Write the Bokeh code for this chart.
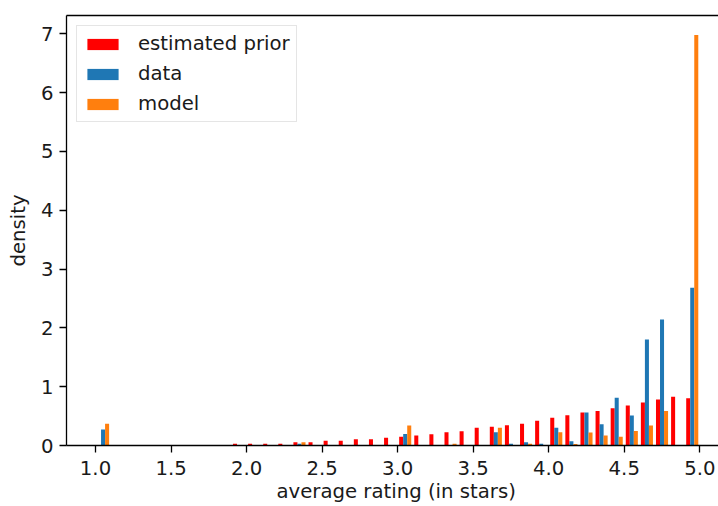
from bokeh.plotting import figure
from bokeh.models import Range1d, LinearAxis, FixedTicker, ColumnDataSource, Title
from bokeh.embed import file_html
from bokeh.resources import INLINE

# ---- data (density histograms, 40 bins of width 0.1 from 1.0 to 5.0) ----
bin_lefts = [round(1.0 + 0.1 * i, 1) for i in range(40)]

prior = [0, 0, 0, 0, 0, 0, 0, 0, 0, 0.028,
         0.028, 0.028, 0.028, 0.057, 0.057, 0.079, 0.079, 0.108, 0.108, 0.13,
         0.15, 0.17, 0.19, 0.227, 0.244, 0.30, 0.317, 0.346, 0.368, 0.42,
         0.47, 0.515, 0.56, 0.585, 0.635, 0.68, 0.73, 0.78, 0.83, 0.805]

data = [0.272, 0, 0, 0, 0, 0, 0, 0, 0, 0,
        0, 0, 0, 0.028, 0, 0, 0, 0, 0, 0,
        0.195, 0, 0, 0, 0, 0, 0.227, 0.03, 0.057, 0.03,
        0.30, 0.072, 0.56, 0.36, 0.81, 0.51, 1.80, 2.14, 0, 2.68]

model = [0.37, 0, 0, 0, 0, 0, 0, 0, 0, 0,
         0, 0, 0, 0.057, 0, 0, 0, 0, 0, 0,
         0.34, 0, 0, 0.03, 0, 0, 0.30, 0, 0.03, 0,
         0.227, 0.025, 0.22, 0.17, 0.15, 0.245, 0.34, 0.585, 0, 6.98]

series_names = ["estimated prior", "data", "model"]
series_colors = ["#ff0000", "#1f77b4", "#ff7f0e"]

x_ticks = [1.0, 1.5, 2.0, 2.5, 3.0, 3.5, 4.0, 4.5, 5.0]
x_tick_labels = ["1.0", "1.5", "2.0", "2.5", "3.0", "3.5", "4.0", "4.5", "5.0"]
y_ticks = [0, 1, 2, 3, 4, 5, 6, 7]
x_title = "average rating (in stars)"
y_title = "density"

bin_width = 0.1

FONT = "DejaVu Sans"
FS = "19.7px"
TXT = "#1a1a1a"

p = figure(width=718, height=506, output_backend="svg", toolbar_location=None,
           x_range=Range1d(0.808, 5.1238), y_range=Range1d(0, 7.31),
           min_border_left=66, min_border_right=0, min_border_top=15,
           min_border_bottom=61)
p.outline_line_color = None
p.xgrid.visible = False
p.ygrid.visible = False

bar_w = bin_width * 0.8 / 3
for k, (vals, name, col) in enumerate(zip([prior, data, model], series_names, series_colors)):
    xs = [b + bin_width * 0.1 + (k + 0.5) * bar_w for b in bin_lefts]
    src = ColumnDataSource(dict(x=xs, top=vals))
    p.vbar(x="x", top="top", bottom=0, width=bar_w, source=src,
           fill_color=col, line_color=None, legend_label=name)

for ax in (p.xaxis[0], p.yaxis[0]):
    ax.axis_line_width = 1.3
    ax.axis_line_color = "black"
    ax.major_tick_line_width = 1.3
    ax.major_tick_line_color = "black"
    ax.major_tick_out = 7
    ax.major_tick_in = 0
    ax.minor_tick_line_color = None
    ax.major_label_text_font = FONT
    ax.major_label_text_font_size = FS
    ax.major_label_text_color = TXT
    ax.axis_label_text_font = FONT
    ax.axis_label_text_font_size = FS
    ax.axis_label_text_font_style = "normal"
    ax.axis_label_text_color = TXT

p.xaxis[0].ticker = FixedTicker(ticks=x_ticks)
p.xaxis[0].major_label_overrides = {t: l for t, l in zip(x_ticks, x_tick_labels)}
p.xaxis[0].major_label_standoff = 8

# x-axis title, placed as in the original (its axes extend past the crop)
p.add_layout(Title(text=x_title, align="left", offset=210, standoff=1,
                   text_font=FONT, text_font_size=FS, text_font_style="normal",
                   text_color=TXT), "below")

p.yaxis[0].ticker = FixedTicker(ticks=y_ticks)
p.yaxis[0].major_label_standoff = 6
p.yaxis[0].axis_label = y_title
p.yaxis[0].axis_label_standoff = 8

top_axis = LinearAxis(ticker=FixedTicker(ticks=[]), axis_line_width=1.3,
                      axis_line_color="black", major_tick_out=0, major_tick_in=0,
                      minor_tick_out=0, minor_tick_in=0, major_label_standoff=0)
p.add_layout(top_axis, "above")

lg = p.legend[0]
lg.location = "top_left"
lg.margin = 10
lg.padding = 6
lg.spacing = 7
lg.glyph_width = 39
lg.glyph_height = 14
lg.label_standoff = 16
lg.label_text_font = FONT
lg.label_text_font_size = FS
lg.label_text_color = TXT
lg.border_line_color = "#cccccc"
lg.border_line_width = 1
lg.background_fill_alpha = 0.8

open("out.html", "w").write(file_html(p, INLINE))
